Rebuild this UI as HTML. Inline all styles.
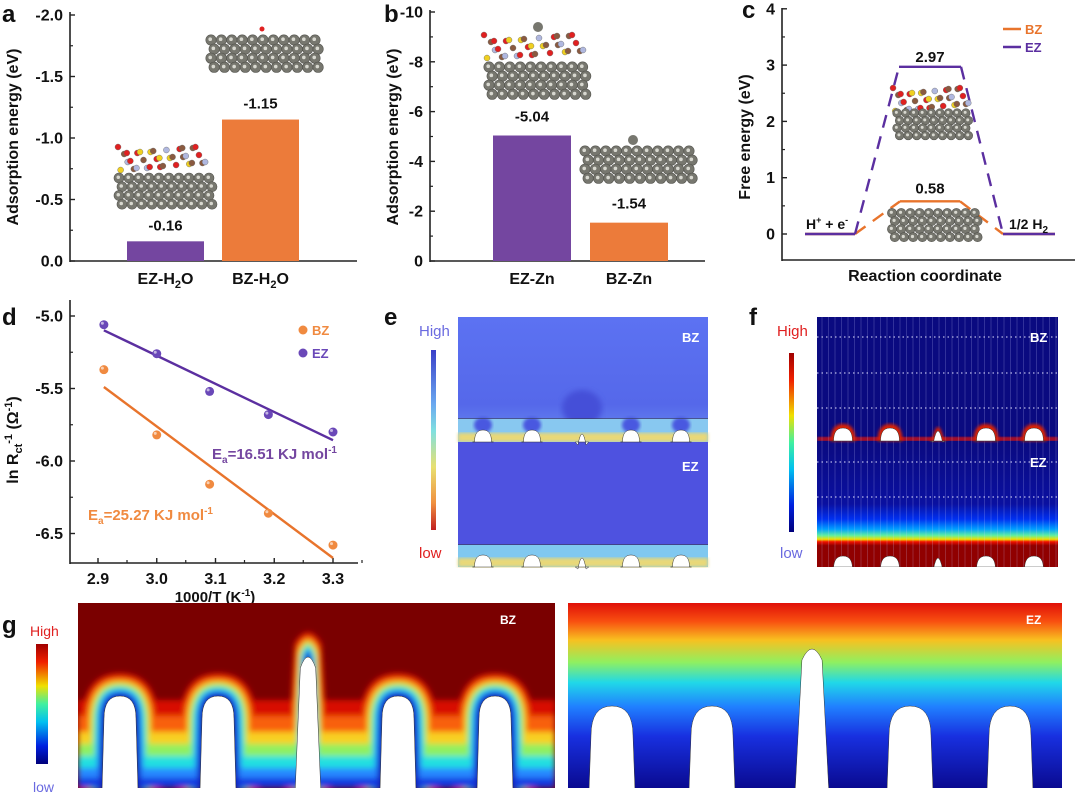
<!DOCTYPE html>
<html><head><meta charset="utf-8">
<style>
html,body{margin:0;padding:0;background:#fff;}
svg{display:block;font-family:"Liberation Sans",Arial,sans-serif;}
.t{font-weight:bold;fill:#111;}
</style></head>
<body>
<svg id="fig" width="1080" height="797" viewBox="0 0 1080 797" xmlns="http://www.w3.org/2000/svg">
<defs>
<linearGradient id="cbE" x1="0" y1="0" x2="0" y2="1"><stop offset="0" stop-color="#3a3fc8"/><stop offset="0.3" stop-color="#6aa8f0"/><stop offset="0.45" stop-color="#80e0e0"/><stop offset="0.65" stop-color="#e8e070"/><stop offset="0.85" stop-color="#f09040"/><stop offset="1" stop-color="#c02020"/></linearGradient>
<linearGradient id="cbF" x1="0" y1="0" x2="0" y2="1"><stop offset="0" stop-color="#a00000"/><stop offset="0.15" stop-color="#f02000"/><stop offset="0.35" stop-color="#f0e000"/><stop offset="0.5" stop-color="#40f0a0"/><stop offset="0.65" stop-color="#00c0f0"/><stop offset="0.85" stop-color="#0020e0"/><stop offset="1" stop-color="#00007a"/></linearGradient>
<linearGradient id="fEZ" x1="0" y1="0" x2="0" y2="1"><stop offset="0" stop-color="#0a0a80"/><stop offset="0.5" stop-color="#0a10a0"/><stop offset="0.62" stop-color="#0030f0"/><stop offset="0.7" stop-color="#00a0ff"/><stop offset="0.75" stop-color="#60f0a0"/><stop offset="0.78" stop-color="#f0e000"/><stop offset="0.8" stop-color="#f01000"/><stop offset="0.83" stop-color="#900000"/><stop offset="1" stop-color="#900000"/></linearGradient>
<linearGradient id="gEZ" x1="0" y1="0" x2="0" y2="1"><stop offset="0" stop-color="#e01008"/><stop offset="0.1" stop-color="#f85010"/><stop offset="0.2" stop-color="#f8c020"/><stop offset="0.32" stop-color="#90f060"/><stop offset="0.43" stop-color="#20d8e8"/><stop offset="0.56" stop-color="#2080ff"/><stop offset="0.72" stop-color="#1830e0"/><stop offset="1" stop-color="#0a0a90"/></linearGradient>
<linearGradient id="eBZ" x1="0" y1="0" x2="0" y2="1"><stop offset="0" stop-color="#5c72f2"/><stop offset="0.7" stop-color="#5568ea"/><stop offset="1" stop-color="#6a8cf0"/></linearGradient>
<clipPath id="clipGL"><rect x="78" y="603" width="477" height="185"/></clipPath>
<clipPath id="clipGR"><rect x="568" y="603" width="494" height="185"/></clipPath>
<clipPath id="clipF"><rect x="817" y="317" width="241" height="250"/></clipPath>
<filter id="blur4"><feGaussianBlur stdDeviation="3"/></filter>
<filter id="blur2"><feGaussianBlur stdDeviation="1.5"/></filter>
</defs>

<text class="t" x="2" y="22" font-size="24">a</text>
<text class="t" x="384" y="22" font-size="24">b</text>
<text class="t" x="742" y="18" font-size="24">c</text>
<text class="t" x="2" y="325" font-size="24">d</text>
<text class="t" x="384" y="325" font-size="24">e</text>
<text class="t" x="749" y="325" font-size="24">f</text>
<text class="t" x="2" y="633" font-size="24">g</text>

<g id="pa"></g>
<g id="pb"></g>
<g id="pc"></g>
<g id="pd"></g>

<!-- panel e -->
<g>
<text x="419" y="336" font-size="15" fill="#6a6ae0">High</text>
<rect x="431" y="350" width="5" height="180" fill="url(#cbE)"/>
<text x="419" y="558" font-size="15" fill="#e02020">low</text>
<rect x="458" y="317" width="250" height="125" fill="url(#eBZ)"/>
<ellipse cx="582" cy="408" rx="20" ry="18" fill="#4450d8" filter="url(#blur4)"/>
<rect x="458" y="419" width="250" height="23" fill="#88c8f0"/>
<rect x="458" y="433" width="250" height="9" fill="#e8d878" filter="url(#blur2)"/>
<g id="eSpots"></g>
<rect x="458" y="418" width="250" height="1" fill="#333" opacity="0.5"/>
<rect x="458" y="442" width="250" height="125" fill="#4e52e0"/>
<rect x="458" y="545" width="250" height="22" fill="#80c8f0"/>
<rect x="458" y="558" width="250" height="9" fill="#e8d878" filter="url(#blur2)"/>
<rect x="458" y="544" width="250" height="1" fill="#333" opacity="0.5"/>
<g id="eArches"></g>
<text x="682" y="342" font-size="13" font-weight="bold" fill="#fff">BZ</text>
<text x="682" y="471" font-size="13" font-weight="bold" fill="#fff">EZ</text>
</g>

<!-- panel f -->
<g>
<text x="777" y="336" font-size="15" fill="#e02020">High</text>
<rect x="789" y="353" width="5" height="179" fill="url(#cbF)"/>
<text x="780" y="558" font-size="15" fill="#6a6ae0">low</text>
<g clip-path="url(#clipF)">
<rect x="817" y="317" width="241" height="124" fill="#0a0a80"/>
<rect x="817" y="437" width="241" height="4" fill="#d01008" filter="url(#blur2)"/>
<rect x="817" y="441" width="241" height="126" fill="url(#fEZ)"/>
<g id="fLines" opacity="0.4"></g>
<g id="fArches"></g>
</g>
<text x="1030" y="342" font-size="13" font-weight="bold" fill="#fff">BZ</text>
<text x="1030" y="467" font-size="13" font-weight="bold" fill="#fff">EZ</text>
</g>

<!-- panel g -->
<g>
<text x="30" y="636" font-size="14" fill="#e02020">High</text>
<rect x="36" y="644" width="12" height="120" fill="url(#cbF)"/>
<text x="33" y="792" font-size="14" fill="#6a6ae0">low</text>
<g clip-path="url(#clipGL)">
<rect x="78" y="603" width="477" height="185" fill="#7a0000"/>
<g id="gHalo" filter="url(#blur4)"></g>
<g id="gArchL"></g>
</g>
<g clip-path="url(#clipGR)">
<rect x="568" y="603" width="494" height="185" fill="url(#gEZ)"/>
<g id="gArchR"></g>
</g>
<text x="500" y="624" font-size="12" font-weight="bold" fill="#fff">BZ</text>
<text x="1026" y="624" font-size="12" font-weight="bold" fill="#fff">EZ</text>
</g>
</svg>

<script>
// ---------- data ----------
const aCategories = ["EZ-H2O", "BZ-H2O"];
const aValues = [-0.16, -1.15];
const aTicks = [-2.0, -1.5, -1.0, -0.5, 0.0];
const bCategories = ["EZ-Zn", "BZ-Zn"];
const bValues = [-5.04, -1.54];
const bTicks = [-10, -8, -6, -4, -2, 0];
const cTicks = [0, 1, 2, 3, 4];
const cEZLevels = [0, 2.97, 0];
const cBZLevels = [0, 0.58, 0];
const dX = [2.91, 3.0, 3.09, 3.19, 3.3];
const dEZ = [-5.06, -5.26, -5.52, -5.68, -5.80];
const dBZ = [-5.37, -5.82, -6.16, -6.36, -6.58];
const dXTicks = [2.9, 3.0, 3.1, 3.2, 3.3];
const dYTicks = [-5.0, -5.5, -6.0, -6.5];

const NS = "http://www.w3.org/2000/svg";
function mk(parent, tag, attrs, text) {
  const e = document.createElementNS(NS, tag);
  for (const k in attrs) e.setAttribute(k, attrs[k]);
  if (text !== undefined) e.textContent = text;
  parent.appendChild(e);
  return e;
}
const PURPLE = "#7446a0", ORANGE = "#ec7b3a", LP = "#5b2fa0", LO = "#e8742c";

function slab(g, x0, y0, cols, rows, r) {
  for (let j = 0; j < rows; j++) for (let i = 0; i < cols; i++) {
    const cx = x0 + i * 2 * r + (j % 2 ? r * 0.6 : 0), cy = y0 + j * r * 1.75;
    const c = mk(g, "circle", {cx: cx, cy: cy, r: r, fill: "#77776f", stroke: "#55554f", "stroke-width": 0.6});
    
    
    mk(g, "circle", {cx: cx - r * 0.15, cy: cy - r * 0.15, r: r * 0.35, fill: "#d8d8d0"});
  }
}
function molecules(g, x0, y0, w) {
  const cols = ["#e02020", "#f0d020", "#8a5a40", "#b0b8e0", "#e02020", "#8a5a40"];
  for (let i = 0; i < 34; i++) {
    const cx = x0 + (i * 37 % 100) / 100 * w, cy = y0 + ((i * 53) % 24);
    const c = mk(g, "circle", {cx: cx, cy: cy, r: 3, fill: cols[i % cols.length], stroke: "#666", "stroke-width": 0.4});
    
    
  }
}

function axisY(g, x, yTop, yBot, ticks, yf, fmt, name) {
  const ax = mk(g, "line", {x1: x, y1: yTop, x2: x, y2: yBot, stroke: "#222", "stroke-width": 1.6});
  
  
  ticks.forEach((v, i) => {
    const y = yf(v);
    mk(g, "line", {x1: x, y1: y, x2: x + 5, y2: y, stroke: "#222", "stroke-width": 1.4});
    if (i < ticks.length - 1) { const ym = (y + yf(ticks[i + 1])) / 2; mk(g, "line", {x1: x, y1: ym, x2: x + 3, y2: ym, stroke: "#222", "stroke-width": 1.2}); }
    const t = mk(g, "text", {x: x - 7, y: y + 5.5, "font-size": 16, "font-weight": "bold", "text-anchor": "end", fill: "#111"}, fmt(v));
    
    
  });
}
function axisX(g, y, x1, x2, name) {
  const ax = mk(g, "line", {x1: x1, y1: y, x2: x2, y2: y, stroke: "#222", "stroke-width": 1.6});
  
  
}
function yTitle(g, x, y, s, name) {
  const t = mk(g, "text", {x: x, y: y, "font-size": 16, "font-weight": "bold", "text-anchor": "middle", fill: "#111", transform: `rotate(-90 ${x} ${y})`});
  t.innerHTML = s;
  
  
}

// ---------- panel a ----------
(function () {
  const g = document.getElementById("pa");
  const ya = v => 261 + v * 123;
  axisY(g, 70, 12, 262, aTicks, ya, v => v.toFixed(1), "a-y-axis");
  axisX(g, 261, 70, 357, "a-x-axis");
  yTitle(g, 18, 137, "Adsorption energy (eV)", "a-y-axis-title");
  const xs = [127, 222], cols = [PURPLE, ORANGE], w = 77;
  aValues.forEach((v, i) => {
    const b = mk(g, "rect", {x: xs[i], y: ya(v), width: w, height: 261 - ya(v), fill: cols[i]});
    
    
    const l = mk(g, "text", {x: xs[i] + w / 2, y: ya(v) - 11, "font-size": 15, "font-weight": "bold", "text-anchor": "middle", fill: "#111"}, v.toFixed(2));
    
    
    const c = mk(g, "text", {x: xs[i] + w / 2, y: 284, "font-size": 16, "font-weight": "bold", "text-anchor": "middle", fill: "#111"});
    c.innerHTML = aCategories[i].replace("H2O", 'H<tspan font-size="11" dy="4">2</tspan><tspan dy="-4">O</tspan>');
    
    
  });
  const s1 = mk(g, "g", {});  
  molecules(s1, 118, 147, 88); slab(s1, 119, 178, 10, 4, 5);
  const s2 = mk(g, "g", {});  
  slab(s2, 211, 40, 11, 4, 5.2); mk(s2, "circle", {cx: 262, cy: 29, r: 2.5, fill: "#e02020"});
})();

// ---------- panel b ----------
(function () {
  const g = document.getElementById("pb");
  const yb = v => 261 + v * 24.9;
  axisY(g, 430, 10, 262, bTicks, yb, v => String(v), "b-y-axis");
  axisX(g, 261, 430, 705, "b-x-axis");
  yTitle(g, 398, 137, "Adsorption energy (eV)", "b-y-axis-title");
  const xs = [493, 590], cols = [PURPLE, ORANGE], w = 78;
  bValues.forEach((v, i) => {
    const b = mk(g, "rect", {x: xs[i], y: yb(v), width: w, height: 261 - yb(v), fill: cols[i]});
    
    
    const l = mk(g, "text", {x: xs[i] + w / 2, y: yb(v) - 14, "font-size": 15, "font-weight": "bold", "text-anchor": "middle", fill: "#111"}, v.toFixed(2));
    
    
    const c = mk(g, "text", {x: xs[i] + w / 2, y: 284, "font-size": 16, "font-weight": "bold", "text-anchor": "middle", fill: "#111"}, bCategories[i]);
    
    
  });
  const s1 = mk(g, "g", {});  
  molecules(s1, 484, 35, 100); mk(s1, "circle", {cx: 538, cy: 27, r: 5, fill: "#77776f"}); slab(s1, 489, 67, 10, 4, 5.2);
  const s2 = mk(g, "g", {});  
  mk(s2, "circle", {cx: 633, cy: 140, r: 5, fill: "#77776f"}); slab(s2, 585, 151, 11, 4, 5.2);
})();

// ---------- panel c ----------
(function () {
  const g = document.getElementById("pc");
  const yc = v => 234 - v * 56.3;
  axisY(g, 782, 8, 261, cTicks, yc, v => String(v), "c-y-axis");
  axisX(g, 260, 782, 1075, "c-x-axis");
  yTitle(g, 750, 137, "Free energy (eV)", "c-y-axis-title");
  const xt = mk(g, "text", {x: 925, y: 281, "font-size": 16, "font-weight": "bold", "text-anchor": "middle", fill: "#111"}, "Reaction coordinate");
   
  const segs = [[805, 855], [899, 961], [1003, 1055]];
  function draw(levels, col, name, segsUse) {
    levels.forEach((v, i) => {
      const s = segsUse[i];
      const l = mk(g, "line", {x1: s[0], y1: yc(v), x2: s[1], y2: yc(v), stroke: col, "stroke-width": 2.4});
      
      
      if (i < levels.length - 1) {
        const n = segsUse[i + 1];
        const d = mk(g, "line", {x1: s[1], y1: yc(v), x2: n[0], y2: yc(levels[i + 1]), stroke: col, "stroke-width": 2.4, "stroke-dasharray": "13 9"});
        
        
      }
    });
  }
  draw(cBZLevels, LO, "bz", [[805, 855], [900, 960], [1003, 1055]]);
  draw(cEZLevels, LP, "ez", segs);
  const l1 = mk(g, "text", {x: 930, y: 62, "font-size": 15, "font-weight": "bold", "text-anchor": "middle", fill: "#111"}, cEZLevels[1].toFixed(2));
   
  const l2 = mk(g, "text", {x: 930, y: yc(cBZLevels[1]) - 8, "font-size": 15, "font-weight": "bold", "text-anchor": "middle", fill: "#111"}, cBZLevels[1].toFixed(2));
   
  const t1 = mk(g, "text", {x: 806, y: 229, "font-size": 14, "font-weight": "bold", fill: "#111"});
  t1.innerHTML = 'H<tspan font-size="9" dy="-6">+</tspan><tspan dy="6"> + e</tspan><tspan font-size="9" dy="-6">-</tspan>';
   
  const t2 = mk(g, "text", {x: 1009, y: 229, "font-size": 14, "font-weight": "bold", fill: "#111"});
  t2.innerHTML = '1/2 H<tspan font-size="10" dy="4">2</tspan>';
   
  [["BZ", LO, 29], ["EZ", LP, 47]].forEach(e => {
    const lg = mk(g, "g", {});  
    mk(lg, "line", {x1: 1003, y1: e[2], x2: 1021, y2: e[2], stroke: e[1], "stroke-width": 2.4});
    mk(lg, "text", {x: 1025, y: e[2] + 5, "font-size": 13, "font-weight": "bold", fill: e[1]}, e[0]);
  });
  const s1 = mk(g, "g", {});  
  molecules(s1, 893, 88, 76); slab(s1, 897, 113, 9, 4, 4.3);
  const s2 = mk(g, "g", {});  
  slab(s2, 892, 213, 10, 4, 4.6);
})();

// ---------- panel d ----------
(function () {
  const g = document.getElementById("pd");
  const xd = v => 98 + (v - 2.9) * 587.5;
  const yd = v => 316 + (-5.0 - v) * 145;
  axisY(g, 70, 300, 564, dYTicks, yd, v => v.toFixed(1), "d-y-axis");
  axisX(g, 563, 70, 358, "d-x-axis");
  dXTicks.forEach(v => {
    const x = xd(v);
    mk(g, "line", {x1: x, y1: 563, x2: x, y2: 558, stroke: "#222", "stroke-width": 1.4});
    mk(g, "line", {x1: x + 29, y1: 563, x2: x + 29, y2: 560, stroke: "#222", "stroke-width": 1.2});
    const t = mk(g, "text", {x: x, y: 584, "font-size": 16, "font-weight": "bold", "text-anchor": "middle", fill: "#111"}, v.toFixed(1));
     
  });
  const xt = mk(g, "text", {x: 215, y: 602, "font-size": 15, "font-weight": "bold", "text-anchor": "middle", fill: "#111"});
  xt.innerHTML = '1000/T (K<tspan font-size="10" dy="-6">-1</tspan><tspan dy="6">)</tspan>';
   
  const yt = mk(g, "text", {x: 18, y: 440, "font-size": 16, "font-weight": "bold", "text-anchor": "middle", fill: "#111", transform: "rotate(-90 18 440)"});
  yt.innerHTML = 'ln R<tspan font-size="11" dy="4">ct</tspan><tspan font-size="11" dy="-10">-1</tspan><tspan dy="6"> (Ω</tspan><tspan font-size="11" dy="-6">-1</tspan><tspan dy="6">)</tspan>';
   
  function fit(xs, ys) {
    const n = xs.length, mx = xs.reduce((a, b) => a + b) / n, my = ys.reduce((a, b) => a + b) / n;
    let sxy = 0, sxx = 0; xs.forEach((x, i) => { sxy += (x - mx) * (ys[i] - my); sxx += (x - mx) * (x - mx); });
    const m = sxy / sxx; return x => my + m * (x - mx);
  }
  [[dEZ, LP, "#6a48b8", "ez"], [dBZ, LO, "#f08a40", "bz"]].forEach(s => {
    const f = fit(dX, s[0]);
    const ln = mk(g, "line", {x1: xd(dX[0]), y1: yd(f(dX[0])), x2: xd(dX[dX.length - 1]), y2: yd(f(dX[dX.length - 1])), stroke: s[1], "stroke-width": 2.4});
     
    s[0].forEach((v, i) => {
      const p = mk(g, "circle", {cx: xd(dX[i]), cy: yd(v), r: 4.5, fill: s[2]});
       
      mk(g, "circle", {cx: xd(dX[i]) - 1.5, cy: yd(v) - 1.5, r: 1.5, fill: "#fff", opacity: 0.6});
    });
  });
  [["BZ", "#f08a40", 330], ["EZ", "#6a48b8", 353]].forEach(e => {
    const lg = mk(g, "g", {});  
    mk(lg, "circle", {cx: 303, cy: e[2], r: 4.5, fill: e[1]});
    mk(lg, "text", {x: 312, y: e[2] + 5, "font-size": 13, "font-weight": "bold", fill: e[1]}, e[0]);
  });
  const a1 = mk(g, "text", {x: 212, y: 459, "font-size": 15, "font-weight": "bold", fill: "#7446a0"});
  a1.innerHTML = 'E<tspan font-size="10" dy="4">a</tspan><tspan dy="-4">=16.51 KJ mol</tspan><tspan font-size="10" dy="-6">-1</tspan>';
   
  const a2 = mk(g, "text", {x: 88, y: 520, "font-size": 15, "font-weight": "bold", fill: "#f08a40"});
  a2.innerHTML = 'E<tspan font-size="10" dy="4">a</tspan><tspan dy="-4">=25.27 KJ mol</tspan><tspan font-size="10" dy="-6">-1</tspan>';
   
})();

// ---------- arch helpers for maps ----------
function arch(cx, top, bot, w) {
  const h = w * 0.7;
  return `M${cx - w / 2 - 2},${bot} L${cx - w / 2},${top + h} Q${cx - w / 2},${top} ${cx},${top} Q${cx + w / 2},${top} ${cx + w / 2},${top + h} L${cx + w / 2 + 2},${bot} Z`;
}
function spike(cx, top, bot, w) {
  return `M${cx - w},${bot} L${cx - w * 0.6},${top + 20} Q${cx},${top - 2} ${cx + w * 0.6},${top + 20} L${cx + w},${bot} Z`;
}
function archRow(gid, centers, top, bot, w, spikeIdx, spikeTop, fill, name) {
  const g = document.getElementById(gid);
  centers.forEach((c, i) => {
    const d = i === spikeIdx ? spike(c, spikeTop, bot, w * 0.4) : arch(c, top, bot, w);
    const p = mk(g, "path", {d: d, fill: fill, stroke: "#333", "stroke-width": 0.5});
    
    
  });
}
// panel e
(function () {
  const g = document.getElementById("eSpots");
  [483, 532, 631, 681].forEach(c => mk(g, "ellipse", {cx: c, cy: 425, rx: 9, ry: 8, fill: "#4a58e0", filter: "url(#blur2)"}));
})();
archRow("eArches", [483, 532, 582, 631, 681], 430, 442, 17, 2, 425, "#fff", "e-bz-dendrite");
archRow("eArches", [483, 532, 582, 631, 681], 555, 567, 17, 2, 549, "#fff", "e-ez-dendrite");
// panel f
const fCenters = [843, 890, 938, 986, 1034];
(function () {
  const g = document.getElementById("fLines");
  for (let x = 822; x < 1058; x += 6.5) mk(g, "line", {x1: x, y1: 317, x2: x, y2: 567, stroke: "#d0d0ff", "stroke-width": 0.5});
  const gd = document.getElementById("fArches");
  [337, 373, 408, 462, 497].forEach(y => mk(gd, "line", {x1: 817, y1: y, x2: 1058, y2: y, stroke: "#e0e0ff", "stroke-width": 1, "stroke-dasharray": "1.5 3"}));
  fCenters.forEach((c, i) => {
    mk(gd, "path", {d: i === 2 ? spike(c, 418, 441, 9) : arch(c, 424, 441, 25), fill: "#e02000", filter: "url(#blur2)"});
  });
})();
archRow("fArches", fCenters, 428, 441, 19, 2, 422, "#fff", "f-bz-dendrite");
archRow("fArches", fCenters, 556, 567, 19, 2, 549, "#fff", "f-ez-dendrite");

// panel g halo
(function () {
  const g = document.getElementById("gHalo");
  const centers = [120, 218, 308, 398, 495];
  const levels = [[22, "#d81000"], [18, "#f86010"], [14, "#f8d020"], [11, "#90f060"], [8, "#20e0e0"], [5, "#2888ff"], [2.5, "#1838e0"], [0, "#0a10a0"]];
  levels.forEach(L => {
    const d = L[0];
    let path = `M78,788 L78,${788 - d * 4} L555,${788 - d * 4} L555,788 Z`;
    centers.forEach((c, i) => {
      path += i === 2 ? spike(c, 645 - d, 790, 5 + d * 0.8) : arch(c, 695 - d, 790, 34 + d * 2);
    });
    mk(g, "path", {d: path, fill: L[1]});
  });
})();
archRow("gArchL", [120, 218, 308, 398, 495], 696, 790, 32, 2, 648, "#fff", "g-bz-dendrite");
archRow("gArchR", [612, 712, 812, 910, 1010], 706, 790, 42, 2, 640, "#fff", "g-ez-dendrite");
</script>
</body></html>
